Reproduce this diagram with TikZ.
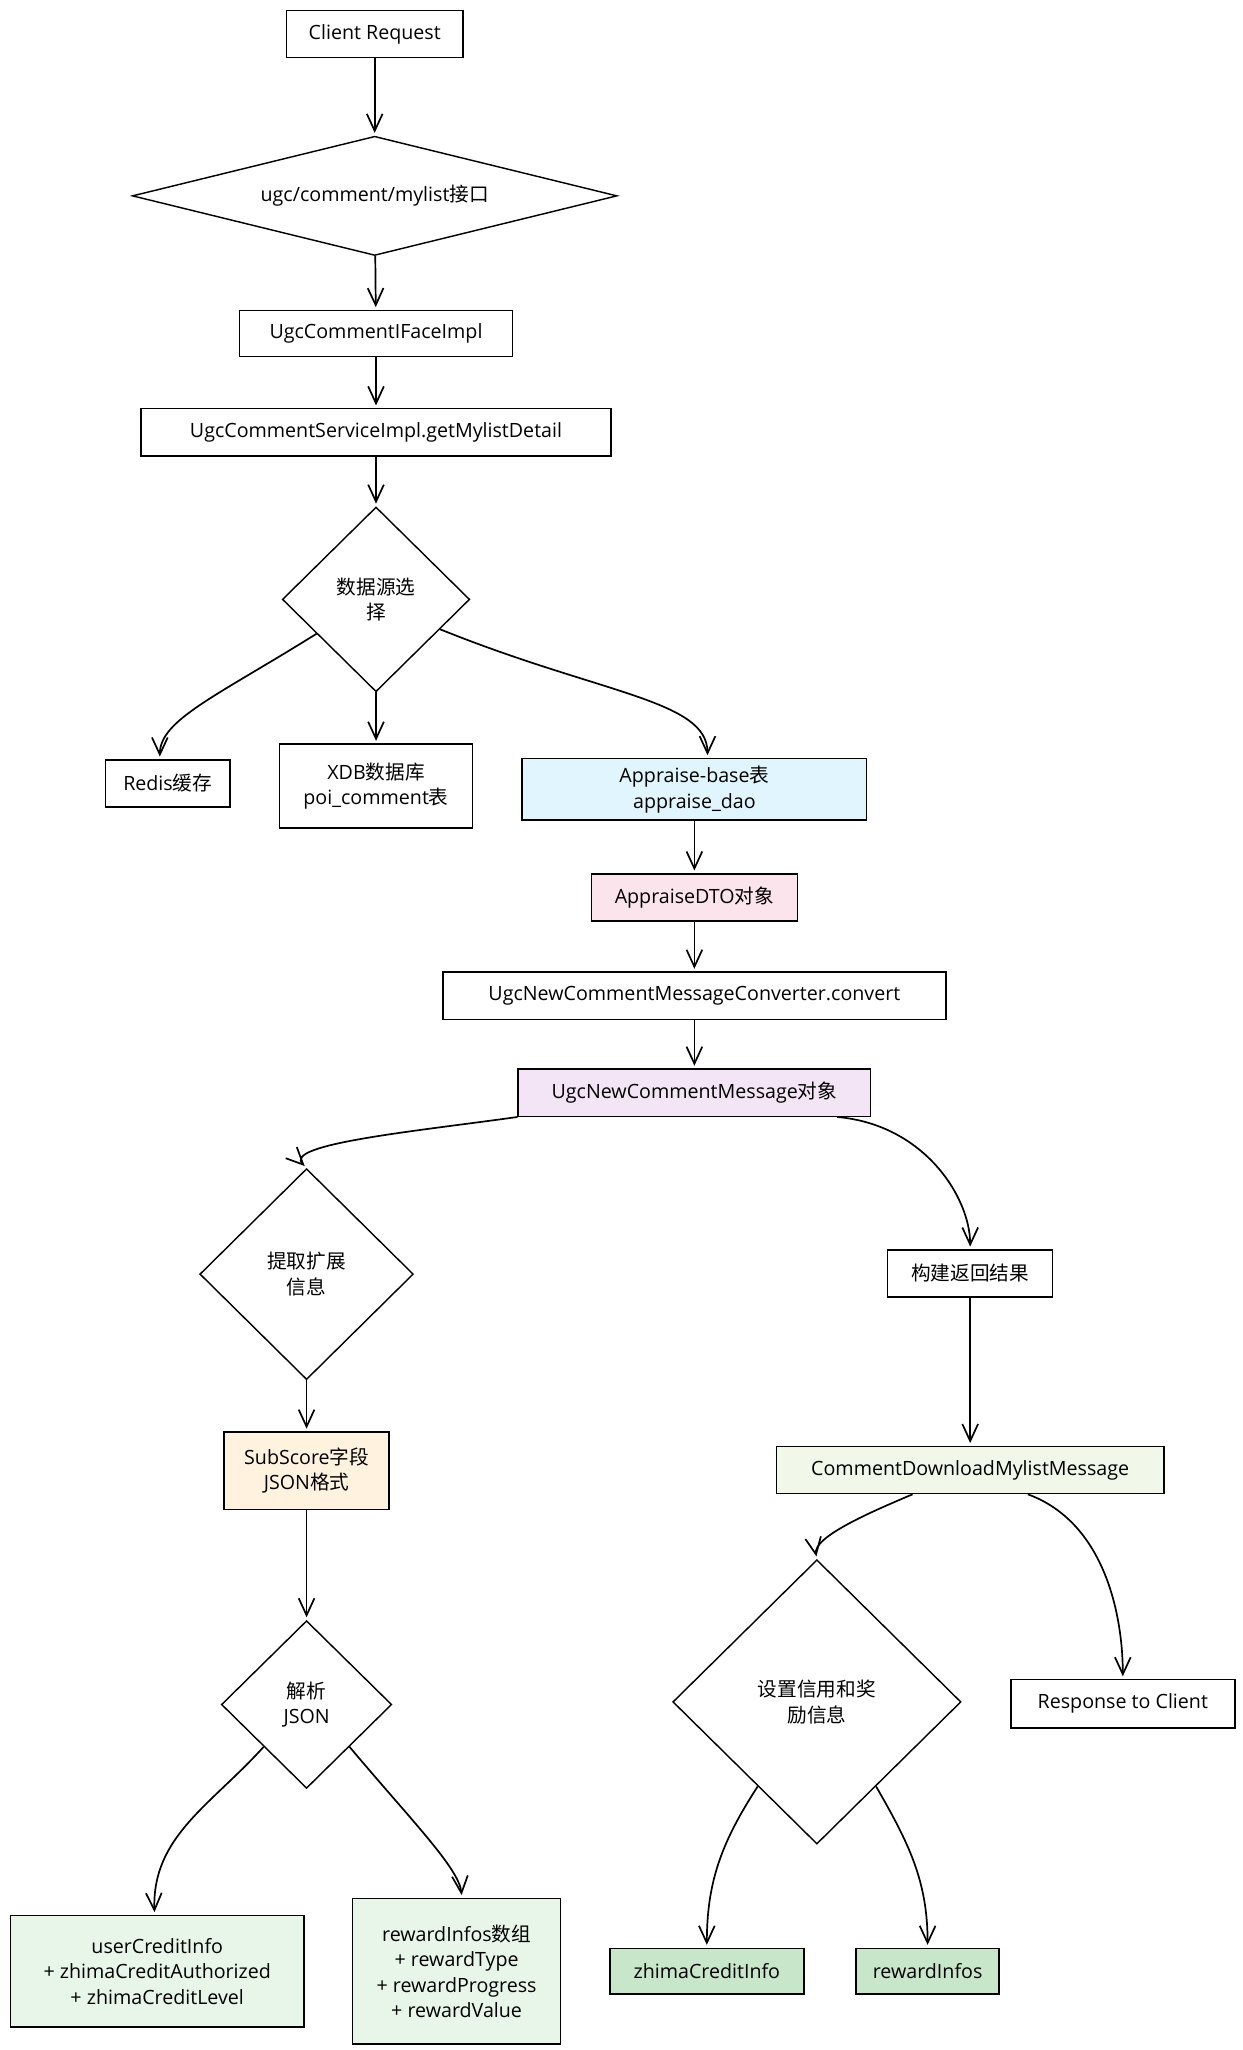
\documentclass[tikz,border=0pt]{standalone}
\usepackage{fontspec}
\setmainfont{Open Sans}
\newfontfamily\cjkfont{Noto Sans CJK SC}
\newcommand{\zhtext}[1]{{\cjkfont #1}}
\usetikzlibrary{positioning,shapes.geometric,arrows.meta}

\definecolor{appraiseBlue}{HTML}{E1F5FE}
\definecolor{dtoPink}{HTML}{FCE4EC}
\definecolor{messageLilac}{HTML}{F3E5F5}
\definecolor{scoreOrange}{HTML}{FFF3E0}
\definecolor{downloadGreen}{HTML}{F1F8E9}
\definecolor{parsedGreen}{HTML}{E8F5E9}
\definecolor{resultGreen}{HTML}{C8E6C9}

\begin{document}
\begin{tikzpicture}[x=1pt,y=1pt,
    font=\fontsize{15}{19.5}\selectfont,
    box/.style={draw,line width=1.1pt,align=center,inner sep=0pt},
    decision/.style={diamond,draw,line width=1.1pt,align=center,inner sep=0pt},
    flow/.style={line width=1.3pt,-{Straight Barb[length=13pt,width=12pt]},shorten >=2pt}]
    \useasboundingbox (0,0) rectangle (948,-1564.7);

    \node[box,minimum width=135pt,minimum height=36pt] (clientRequest) at (286,-26) {Client Request};
    \node[decision,aspect=4,minimum width=370pt,minimum height=91pt,node distance=123.5pt,below of = clientRequest] (mylistApi) {ugc/comment/mylist\zhtext{接口}};
    \node[box,minimum width=208pt,minimum height=35pt,node distance=105pt,below of = mylistApi,xshift=1pt] (ifaceImpl) {UgcCommentIFaceImpl};
    \node[box,minimum width=359pt,minimum height=36pt,node distance=75.5pt,below of = ifaceImpl] (serviceImpl) {UgcCommentServiceImpl.getMylistDetail};
    \node[decision,minimum width=143pt,minimum height=141pt,node distance=127.5pt,below of = serviceImpl] (sourceChoice) {\zhtext{数据源选}\\\zhtext{择}};

    \node[box,minimum width=95pt,minimum height=36pt,node distance=140.5pt,below of = sourceChoice,xshift=-159pt] (redisCache) {Redis\zhtext{缓存}};
    \node[box,minimum width=147pt,minimum height=64pt,node distance=142.5pt,below of = sourceChoice] (xdbTable) {XDB\zhtext{数据库}\\poi\_comment\zhtext{表}};
    \node[box,fill=appraiseBlue,minimum width=263pt,minimum height=47pt,node distance=145pt,below of = sourceChoice,xshift=243pt] (appraiseTable) {Appraise-base\zhtext{表}\\appraise\_dao};

    \node[box,fill=dtoPink,minimum width=157pt,minimum height=36pt,node distance=82.5pt,below of = appraiseTable] (appraiseDto) {AppraiseDTO\zhtext{对象}};
    \node[box,minimum width=384pt,minimum height=36pt,node distance=75pt,below of = appraiseDto] (converter) {UgcNewCommentMessageConverter.convert};
    \node[box,fill=messageLilac,minimum width=269pt,minimum height=36pt,node distance=74pt,below of = converter] (newMessage) {UgcNewCommentMessage\zhtext{对象}};

    \node[decision,minimum width=163pt,minimum height=161pt,node distance=138.5pt,below of = newMessage,xshift=-296pt] (extractInfo) {\zhtext{提取扩展}\\\zhtext{信息}};
    \node[box,minimum width=126pt,minimum height=36pt,node distance=138pt,below of = newMessage,xshift=210.5pt] (buildResult) {\zhtext{构建返回结果}};

    \node[box,fill=scoreOrange,minimum width=126pt,minimum height=59pt,node distance=150pt,below of = extractInfo] (subScore) {SubScore\zhtext{字段}\\JSON\zhtext{格式}};
    \node[box,fill=downloadGreen,minimum width=296pt,minimum height=36pt,node distance=150pt,below of = buildResult] (downloadMessage) {CommentDownloadMylistMessage};

    \node[decision,minimum width=130pt,minimum height=128pt,node distance=178.5pt,below of = subScore] (parseJson) {\zhtext{解析}\\JSON};
    \node[decision,minimum width=220pt,minimum height=217pt,node distance=177pt,below of = downloadMessage,xshift=-117pt] (setInfo) {\zhtext{设置信用和奖}\\\zhtext{励信息}};
    \node[box,minimum width=171pt,minimum height=37pt,node distance=178.5pt,below of = downloadMessage,xshift=116.5pt] (response) {Response to Client};

    \node[box,fill=parsedGreen,minimum width=224pt,minimum height=85pt,node distance=203.5pt,below of = parseJson,xshift=-114pt] (userCredit) {userCreditInfo\\+ zhimaCreditAuthorized\\+ zhimaCreditLevel};
    \node[box,fill=parsedGreen,minimum width=159pt,minimum height=111pt,node distance=203.5pt,below of = parseJson,xshift=114.5pt] (rewardArray) {rewardInfos\zhtext{数组}\\+ rewardType\\+ rewardProgress\\+ rewardValue};
    \node[box,fill=resultGreen,minimum width=148pt,minimum height=35pt,node distance=205.5pt,below of = setInfo,xshift=-84pt] (zhimaInfo) {zhimaCreditInfo};
    \node[box,fill=resultGreen,minimum width=109pt,minimum height=35pt,node distance=205.5pt,below of = setInfo,xshift=84.5pt] (rewardInfos) {rewardInfos};

    \draw[flow] (clientRequest) -- (mylistApi);
    \draw[flow] (mylistApi) -- (ifaceImpl);
    \draw[flow] (ifaceImpl) -- (serviceImpl);
    \draw[flow] (serviceImpl) -- (sourceChoice);
    \draw[flow] (sourceChoice.210) to[out=212,in=90,out looseness=1.5,in looseness=0.5] ([xshift=-6pt]redisCache.north);
    \draw[flow] (sourceChoice) -- (xdbTable);
    \draw[flow] (sourceChoice.-25) to[out=-22,in=90,out looseness=1.5,in looseness=0.5] ([xshift=10pt]appraiseTable.north);
    \draw[flow] (appraiseTable) -- (appraiseDto);
    \draw[flow] (appraiseDto) -- (converter);
    \draw[flow] (converter) -- (newMessage);
    \draw[flow] (newMessage.south west) to[out=188,in=135,out looseness=1.2,in looseness=0.4] (extractInfo.north);
    \draw[flow] ([xshift=-26pt]newMessage.south east) to[out=-5,in=90,out looseness=1.2,in looseness=0.7] (buildResult.north);
    \draw[flow] (extractInfo) -- (subScore);
    \draw[flow] (buildResult) -- (downloadMessage);
    \draw[flow] (subScore) -- (parseJson);
    \draw[flow] ([xshift=-44pt]downloadMessage.south) to[out=203,in=100,in looseness=0.5] (setInfo.north);
    \draw[flow] ([xshift=44pt]downloadMessage.south) to[out=-20,in=90,in looseness=0.8] (response.north);
    \draw[flow] (parseJson.south west) to[out=228,in=92] ([xshift=-2pt]userCredit.north);
    \draw[flow] (parseJson.south east) to[out=-50,in=95,out looseness=1.3,in looseness=0.4] ([xshift=4pt]rewardArray.north);
    \draw[flow] (setInfo.-125) to[out=237,in=90] (zhimaInfo.north);
    \draw[flow] (setInfo.-55) to[out=-60,in=90] (rewardInfos.north);
\end{tikzpicture}
\end{document}
